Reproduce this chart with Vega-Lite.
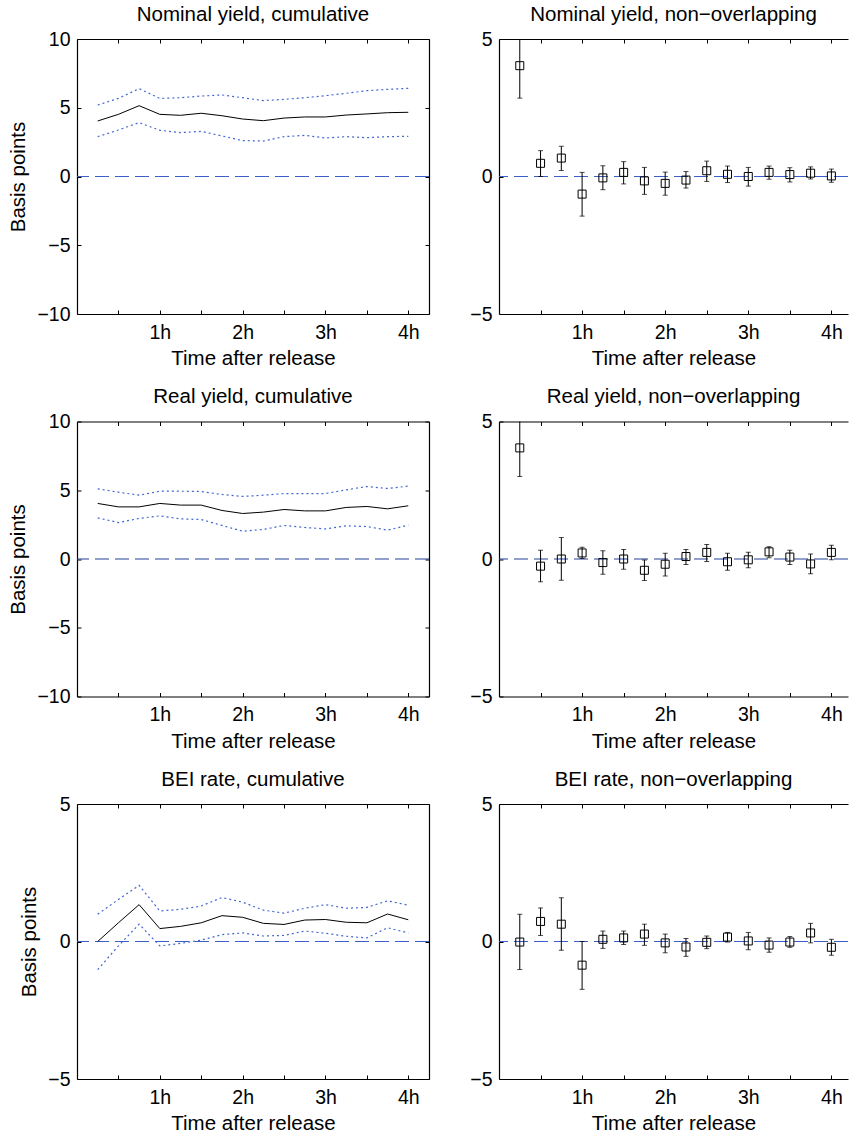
{
  "$schema": "https://vega.github.io/schema/vega-lite/v6.json",
  "padding": {"left": 8, "top": 4, "right": 0, "bottom": 0},
  "background": "white",
  "bounds": "flush",
  "columns": 2,
  "spacing": {"row": 107.5, "column": 70},
  "config": {
    "font": "Liberation Sans",
    "view": {"stroke": null},
    "axis": {
      "grid": false,
      "domainColor": "black",
      "domainWidth": 1.2,
      "tickColor": "black",
      "tickWidth": 1,
      "tickSize": -4,
      "labelColor": "black",
      "labelFont": "Liberation Sans",
      "labelFontSize": 19.5,
      "titleColor": "black",
      "titleFont": "Liberation Sans",
      "titleFontSize": 20.5,
      "titleFontWeight": "normal",
      "labelOverlap": false
    },
    "title": {
      "font": "Liberation Sans",
      "fontSize": 20.5,
      "fontWeight": "normal",
      "color": "black",
      "anchor": "middle",
      "frame": "group",
      "baseline": "alphabetic",
      "offset": 4
    }
  },
  "datasets": {
    "zero": [{"z": 0}],
    "cum_nom": [
      {"t": 0.25, "mean": 4.04, "lo": 2.90, "hi": 5.20},
      {"t": 0.5, "mean": 4.52, "lo": 3.38, "hi": 5.68},
      {"t": 0.75, "mean": 5.15, "lo": 3.92, "hi": 6.39},
      {"t": 1.0, "mean": 4.52, "lo": 3.36, "hi": 5.68},
      {"t": 1.25, "mean": 4.45, "lo": 3.19, "hi": 5.73},
      {"t": 1.5, "mean": 4.60, "lo": 3.28, "hi": 5.85},
      {"t": 1.75, "mean": 4.42, "lo": 2.95, "hi": 5.93},
      {"t": 2.0, "mean": 4.18, "lo": 2.61, "hi": 5.73},
      {"t": 2.25, "mean": 4.06, "lo": 2.58, "hi": 5.52},
      {"t": 2.5, "mean": 4.25, "lo": 2.90, "hi": 5.61},
      {"t": 2.75, "mean": 4.33, "lo": 2.99, "hi": 5.73},
      {"t": 3.0, "mean": 4.33, "lo": 2.80, "hi": 5.88},
      {"t": 3.25, "mean": 4.47, "lo": 2.90, "hi": 6.05},
      {"t": 3.5, "mean": 4.55, "lo": 2.82, "hi": 6.24},
      {"t": 3.75, "mean": 4.64, "lo": 2.90, "hi": 6.34},
      {"t": 4.0, "mean": 4.67, "lo": 2.92, "hi": 6.41}
    ],
    "cum_real": [
      {"t": 0.25, "mean": 4.04, "lo": 2.99, "hi": 5.10},
      {"t": 0.5, "mean": 3.79, "lo": 2.65, "hi": 4.86},
      {"t": 0.75, "mean": 3.79, "lo": 2.95, "hi": 4.64},
      {"t": 1.0, "mean": 4.04, "lo": 3.14, "hi": 4.93},
      {"t": 1.25, "mean": 3.92, "lo": 2.92, "hi": 4.93},
      {"t": 1.5, "mean": 3.92, "lo": 2.87, "hi": 4.91},
      {"t": 1.75, "mean": 3.53, "lo": 2.44, "hi": 4.69},
      {"t": 2.0, "mean": 3.31, "lo": 2.02, "hi": 4.55},
      {"t": 2.25, "mean": 3.41, "lo": 2.15, "hi": 4.64},
      {"t": 2.5, "mean": 3.60, "lo": 2.44, "hi": 4.76},
      {"t": 2.75, "mean": 3.50, "lo": 2.29, "hi": 4.76},
      {"t": 3.0, "mean": 3.50, "lo": 2.19, "hi": 4.76},
      {"t": 3.25, "mean": 3.75, "lo": 2.41, "hi": 5.03},
      {"t": 3.5, "mean": 3.82, "lo": 2.36, "hi": 5.27},
      {"t": 3.75, "mean": 3.65, "lo": 2.10, "hi": 5.13},
      {"t": 4.0, "mean": 3.87, "lo": 2.46, "hi": 5.30}
    ],
    "cum_bei": [
      {"t": 0.25, "mean": 0.00, "lo": -1.02, "hi": 0.99},
      {"t": 0.5, "mean": 0.68, "lo": -0.16, "hi": 1.53},
      {"t": 0.75, "mean": 1.34, "lo": 0.63, "hi": 2.04},
      {"t": 1.0, "mean": 0.47, "lo": -0.16, "hi": 1.11},
      {"t": 1.25, "mean": 0.55, "lo": -0.07, "hi": 1.17},
      {"t": 1.5, "mean": 0.68, "lo": 0.05, "hi": 1.29},
      {"t": 1.75, "mean": 0.94, "lo": 0.25, "hi": 1.60},
      {"t": 2.0, "mean": 0.88, "lo": 0.31, "hi": 1.43},
      {"t": 2.25, "mean": 0.66, "lo": 0.20, "hi": 1.14},
      {"t": 2.5, "mean": 0.62, "lo": 0.22, "hi": 1.03},
      {"t": 2.75, "mean": 0.78, "lo": 0.38, "hi": 1.21},
      {"t": 3.0, "mean": 0.80, "lo": 0.30, "hi": 1.34},
      {"t": 3.25, "mean": 0.70, "lo": 0.19, "hi": 1.21},
      {"t": 3.5, "mean": 0.68, "lo": 0.13, "hi": 1.24},
      {"t": 3.75, "mean": 1.00, "lo": 0.50, "hi": 1.48},
      {"t": 4.0, "mean": 0.79, "lo": 0.31, "hi": 1.32}
    ],
    "non_nom": [
      {"t": 0.25, "est": 4.03, "lo": 2.85, "hi": 5.21},
      {"t": 0.5, "est": 0.48, "lo": 0.00, "hi": 0.94},
      {"t": 0.75, "est": 0.67, "lo": 0.22, "hi": 1.10},
      {"t": 1.0, "est": -0.64, "lo": -1.44, "hi": 0.15},
      {"t": 1.25, "est": -0.05, "lo": -0.48, "hi": 0.39},
      {"t": 1.5, "est": 0.15, "lo": -0.27, "hi": 0.54},
      {"t": 1.75, "est": -0.16, "lo": -0.65, "hi": 0.33},
      {"t": 2.0, "est": -0.25, "lo": -0.68, "hi": 0.16},
      {"t": 2.25, "est": -0.13, "lo": -0.42, "hi": 0.18},
      {"t": 2.5, "est": 0.21, "lo": -0.18, "hi": 0.56},
      {"t": 2.75, "est": 0.08, "lo": -0.22, "hi": 0.38},
      {"t": 3.0, "est": 0.00, "lo": -0.35, "hi": 0.33},
      {"t": 3.25, "est": 0.15, "lo": -0.10, "hi": 0.38},
      {"t": 3.5, "est": 0.07, "lo": -0.20, "hi": 0.32},
      {"t": 3.75, "est": 0.12, "lo": -0.09, "hi": 0.35},
      {"t": 4.0, "est": 0.02, "lo": -0.21, "hi": 0.27}
    ],
    "non_real": [
      {"t": 0.25, "est": 4.04, "lo": 3.00, "hi": 5.08},
      {"t": 0.5, "est": -0.26, "lo": -0.83, "hi": 0.32},
      {"t": 0.75, "est": 0.00, "lo": -0.77, "hi": 0.78},
      {"t": 1.0, "est": 0.22, "lo": 0.02, "hi": 0.43},
      {"t": 1.25, "est": -0.13, "lo": -0.55, "hi": 0.30},
      {"t": 1.5, "est": 0.00, "lo": -0.37, "hi": 0.35},
      {"t": 1.75, "est": -0.41, "lo": -0.78, "hi": -0.04},
      {"t": 2.0, "est": -0.19, "lo": -0.62, "hi": 0.21},
      {"t": 2.25, "est": 0.09, "lo": -0.20, "hi": 0.35},
      {"t": 2.5, "est": 0.24, "lo": -0.09, "hi": 0.53},
      {"t": 2.75, "est": -0.10, "lo": -0.41, "hi": 0.21},
      {"t": 3.0, "est": -0.03, "lo": -0.32, "hi": 0.25},
      {"t": 3.25, "est": 0.26, "lo": 0.05, "hi": 0.45},
      {"t": 3.5, "est": 0.07, "lo": -0.20, "hi": 0.32},
      {"t": 3.75, "est": -0.18, "lo": -0.54, "hi": 0.18},
      {"t": 4.0, "est": 0.24, "lo": -0.03, "hi": 0.50}
    ],
    "non_bei": [
      {"t": 0.25, "est": -0.02, "lo": -1.02, "hi": 0.99},
      {"t": 0.5, "est": 0.73, "lo": 0.22, "hi": 1.22},
      {"t": 0.75, "est": 0.63, "lo": -0.32, "hi": 1.59},
      {"t": 1.0, "est": -0.86, "lo": -1.74, "hi": 0.00},
      {"t": 1.25, "est": 0.08, "lo": -0.25, "hi": 0.38},
      {"t": 1.5, "est": 0.13, "lo": -0.11, "hi": 0.38},
      {"t": 1.75, "est": 0.27, "lo": -0.14, "hi": 0.63},
      {"t": 2.0, "est": -0.05, "lo": -0.41, "hi": 0.27},
      {"t": 2.25, "est": -0.20, "lo": -0.54, "hi": 0.11},
      {"t": 2.5, "est": -0.03, "lo": -0.26, "hi": 0.20},
      {"t": 2.75, "est": 0.16, "lo": -0.02, "hi": 0.33},
      {"t": 3.0, "est": 0.02, "lo": -0.30, "hi": 0.33},
      {"t": 3.25, "est": -0.13, "lo": -0.39, "hi": 0.13},
      {"t": 3.5, "est": -0.02, "lo": -0.21, "hi": 0.18},
      {"t": 3.75, "est": 0.31, "lo": -0.05, "hi": 0.66},
      {"t": 4.0, "est": -0.21, "lo": -0.50, "hi": 0.08}
    ]
  },
  "concat": [
    {
      "title": "Nominal yield, cumulative",
      "width": 352, "height": 275,
      "data": {"name": "cum_nom"},
      "resolve": {"axis": {"x": "independent", "y": "independent"}},
      "layer": [
        {"data": {"name": "zero"}, "mark": {"type": "rule", "color": "#3a5fc8", "strokeDash": [14, 6], "strokeWidth": 1.2},
         "encoding": {"y": {"field": "z", "type": "quantitative", "scale": {"domain": [-10, 10], "nice": false}, "axis": {"orient": "left", "values": [-10, -5, 0, 5, 10], "labelPadding": 11, "title": "Basis points", "titlePadding": 8}}}},
        {"mark": {"type": "line", "color": "black", "strokeWidth": 1},
         "encoding": {"x": {"field": "t", "type": "quantitative", "scale": {"domain": [0, 4.25], "nice": false}, "axis": {"orient": "bottom", "values": [0.5, 1, 1.5, 2, 2.5, 3, 3.5, 4], "labelExpr": "datum.value % 1 === 0 ? datum.value + 'h' : ''", "labelPadding": 13, "labelFlush": false, "title": "Time after release", "titlePadding": 7}},
                      "y": {"field": "mean", "type": "quantitative", "axis": null}}},
        {"mark": {"type": "line", "color": "#4466d0", "strokeDash": [2, 3], "strokeWidth": 1.2},
         "encoding": {"x": {"field": "t", "type": "quantitative", "axis": {"orient": "top", "values": [0.5, 1, 1.5, 2, 2.5, 3, 3.5, 4], "labels": false, "title": null}},
                      "y": {"field": "hi", "type": "quantitative", "axis": {"orient": "right", "values": [-10, -5, 0, 5, 10], "labels": false, "title": null}}}},
        {"mark": {"type": "line", "color": "#4466d0", "strokeDash": [2, 3], "strokeWidth": 1.2},
         "encoding": {"x": {"field": "t", "type": "quantitative", "axis": null},
                      "y": {"field": "lo", "type": "quantitative", "axis": null}}}
      ]
    },
    {
      "title": "Nominal yield, non−overlapping",
      "width": 349, "height": 275,
      "data": {"name": "non_nom"},
      "resolve": {"axis": {"x": "independent", "y": "independent"}},
      "layer": [
        {"data": {"name": "zero"}, "mark": {"type": "rule", "color": "#3a5fc8", "strokeDash": [14, 6], "strokeWidth": 1.2},
         "encoding": {"y": {"field": "z", "type": "quantitative", "scale": {"domain": [-5, 5], "nice": false}, "axis": {"orient": "left", "values": [-5, 0, 5], "labelPadding": 11, "title": null}}}},
        {"mark": {"type": "rule", "color": "black", "strokeWidth": 1, "clip": true},
         "encoding": {"x": {"field": "t", "type": "quantitative", "scale": {"domain": [0, 4.2], "nice": false}, "axis": {"orient": "bottom", "values": [0.5, 1, 1.5, 2, 2.5, 3, 3.5, 4], "labelExpr": "datum.value % 1 === 0 ? datum.value + 'h' : ''", "labelPadding": 13, "labelFlush": false, "title": "Time after release", "titlePadding": 7}},
                      "y": {"field": "lo", "type": "quantitative", "axis": null}, "y2": {"field": "hi"}}},
        {"mark": {"type": "tick", "color": "black", "orient": "horizontal", "size": 5, "thickness": 1, "clip": true},
         "encoding": {"x": {"field": "t", "type": "quantitative", "axis": {"orient": "top", "values": [0.5, 1, 1.5, 2, 2.5, 3, 3.5, 4], "labels": false, "title": null}},
                      "y": {"field": "lo", "type": "quantitative", "axis": null}}},
        {"mark": {"type": "tick", "color": "black", "orient": "horizontal", "size": 5, "thickness": 1, "clip": true},
         "encoding": {"x": {"field": "t", "type": "quantitative", "axis": null},
                      "y": {"field": "hi", "type": "quantitative", "axis": null}}},
        {"mark": {"type": "point", "shape": "square", "filled": false, "color": "black", "size": 64, "strokeWidth": 1, "opacity": 1},
         "encoding": {"x": {"field": "t", "type": "quantitative", "axis": null},
                      "y": {"field": "est", "type": "quantitative", "axis": null}}}
      ]
    },
    {
      "title": "Real yield, cumulative",
      "width": 352, "height": 275,
      "data": {"name": "cum_real"},
      "resolve": {"axis": {"x": "independent", "y": "independent"}},
      "layer": [
        {"data": {"name": "zero"}, "mark": {"type": "rule", "color": "#22409a", "strokeDash": [14, 6], "strokeWidth": 1.2},
         "encoding": {"y": {"field": "z", "type": "quantitative", "scale": {"domain": [-10, 10], "nice": false}, "axis": {"orient": "left", "values": [-10, -5, 0, 5, 10], "labelPadding": 11, "title": "Basis points", "titlePadding": 8}}}},
        {"mark": {"type": "line", "color": "black", "strokeWidth": 1},
         "encoding": {"x": {"field": "t", "type": "quantitative", "scale": {"domain": [0, 4.25], "nice": false}, "axis": {"orient": "bottom", "values": [0.5, 1, 1.5, 2, 2.5, 3, 3.5, 4], "labelExpr": "datum.value % 1 === 0 ? datum.value + 'h' : ''", "labelPadding": 13, "labelFlush": false, "title": "Time after release", "titlePadding": 7}},
                      "y": {"field": "mean", "type": "quantitative", "axis": null}}},
        {"mark": {"type": "line", "color": "#4466d0", "strokeDash": [2, 3], "strokeWidth": 1.2},
         "encoding": {"x": {"field": "t", "type": "quantitative", "axis": {"orient": "top", "values": [0.5, 1, 1.5, 2, 2.5, 3, 3.5, 4], "labels": false, "title": null}},
                      "y": {"field": "hi", "type": "quantitative", "axis": {"orient": "right", "values": [-10, -5, 0, 5, 10], "labels": false, "title": null}}}},
        {"mark": {"type": "line", "color": "#4466d0", "strokeDash": [2, 3], "strokeWidth": 1.2},
         "encoding": {"x": {"field": "t", "type": "quantitative", "axis": null},
                      "y": {"field": "lo", "type": "quantitative", "axis": null}}}
      ]
    },
    {
      "title": "Real yield, non−overlapping",
      "width": 349, "height": 275,
      "data": {"name": "non_real"},
      "resolve": {"axis": {"x": "independent", "y": "independent"}},
      "layer": [
        {"data": {"name": "zero"}, "mark": {"type": "rule", "color": "#22409a", "strokeDash": [14, 6], "strokeWidth": 1.2},
         "encoding": {"y": {"field": "z", "type": "quantitative", "scale": {"domain": [-5, 5], "nice": false}, "axis": {"orient": "left", "values": [-5, 0, 5], "labelPadding": 11, "title": null}}}},
        {"mark": {"type": "rule", "color": "black", "strokeWidth": 1, "clip": true},
         "encoding": {"x": {"field": "t", "type": "quantitative", "scale": {"domain": [0, 4.2], "nice": false}, "axis": {"orient": "bottom", "values": [0.5, 1, 1.5, 2, 2.5, 3, 3.5, 4], "labelExpr": "datum.value % 1 === 0 ? datum.value + 'h' : ''", "labelPadding": 13, "labelFlush": false, "title": "Time after release", "titlePadding": 7}},
                      "y": {"field": "lo", "type": "quantitative", "axis": null}, "y2": {"field": "hi"}}},
        {"mark": {"type": "tick", "color": "black", "orient": "horizontal", "size": 5, "thickness": 1, "clip": true},
         "encoding": {"x": {"field": "t", "type": "quantitative", "axis": {"orient": "top", "values": [0.5, 1, 1.5, 2, 2.5, 3, 3.5, 4], "labels": false, "title": null}},
                      "y": {"field": "lo", "type": "quantitative", "axis": null}}},
        {"mark": {"type": "tick", "color": "black", "orient": "horizontal", "size": 5, "thickness": 1, "clip": true},
         "encoding": {"x": {"field": "t", "type": "quantitative", "axis": null},
                      "y": {"field": "hi", "type": "quantitative", "axis": null}}},
        {"mark": {"type": "point", "shape": "square", "filled": false, "color": "black", "size": 64, "strokeWidth": 1, "opacity": 1},
         "encoding": {"x": {"field": "t", "type": "quantitative", "axis": null},
                      "y": {"field": "est", "type": "quantitative", "axis": null}}}
      ]
    },
    {
      "title": "BEI rate, cumulative",
      "width": 352, "height": 275,
      "data": {"name": "cum_bei"},
      "resolve": {"axis": {"x": "independent", "y": "independent"}},
      "layer": [
        {"data": {"name": "zero"}, "mark": {"type": "rule", "color": "#3a5fc8", "strokeDash": [14, 6], "strokeWidth": 1.2},
         "encoding": {"y": {"field": "z", "type": "quantitative", "scale": {"domain": [-5, 5], "nice": false}, "axis": {"orient": "left", "values": [-5, 0, 5], "labelPadding": 11, "title": "Basis points", "titlePadding": 8}}}},
        {"mark": {"type": "line", "color": "black", "strokeWidth": 1},
         "encoding": {"x": {"field": "t", "type": "quantitative", "scale": {"domain": [0, 4.25], "nice": false}, "axis": {"orient": "bottom", "values": [0.5, 1, 1.5, 2, 2.5, 3, 3.5, 4], "labelExpr": "datum.value % 1 === 0 ? datum.value + 'h' : ''", "labelPadding": 13, "labelFlush": false, "title": "Time after release", "titlePadding": 7}},
                      "y": {"field": "mean", "type": "quantitative", "axis": null}}},
        {"mark": {"type": "line", "color": "#4466d0", "strokeDash": [2, 3], "strokeWidth": 1.2},
         "encoding": {"x": {"field": "t", "type": "quantitative", "axis": {"orient": "top", "values": [0.5, 1, 1.5, 2, 2.5, 3, 3.5, 4], "labels": false, "title": null}},
                      "y": {"field": "hi", "type": "quantitative", "axis": {"orient": "right", "values": [-5, 0, 5], "labels": false, "title": null}}}},
        {"mark": {"type": "line", "color": "#4466d0", "strokeDash": [2, 3], "strokeWidth": 1.2},
         "encoding": {"x": {"field": "t", "type": "quantitative", "axis": null},
                      "y": {"field": "lo", "type": "quantitative", "axis": null}}}
      ]
    },
    {
      "title": "BEI rate, non−overlapping",
      "width": 349, "height": 275,
      "data": {"name": "non_bei"},
      "resolve": {"axis": {"x": "independent", "y": "independent"}},
      "layer": [
        {"data": {"name": "zero"}, "mark": {"type": "rule", "color": "#3a5fc8", "strokeDash": [14, 6], "strokeWidth": 1.2},
         "encoding": {"y": {"field": "z", "type": "quantitative", "scale": {"domain": [-5, 5], "nice": false}, "axis": {"orient": "left", "values": [-5, 0, 5], "labelPadding": 11, "title": null}}}},
        {"mark": {"type": "rule", "color": "black", "strokeWidth": 1, "clip": true},
         "encoding": {"x": {"field": "t", "type": "quantitative", "scale": {"domain": [0, 4.2], "nice": false}, "axis": {"orient": "bottom", "values": [0.5, 1, 1.5, 2, 2.5, 3, 3.5, 4], "labelExpr": "datum.value % 1 === 0 ? datum.value + 'h' : ''", "labelPadding": 13, "labelFlush": false, "title": "Time after release", "titlePadding": 7}},
                      "y": {"field": "lo", "type": "quantitative", "axis": null}, "y2": {"field": "hi"}}},
        {"mark": {"type": "tick", "color": "black", "orient": "horizontal", "size": 5, "thickness": 1, "clip": true},
         "encoding": {"x": {"field": "t", "type": "quantitative", "axis": {"orient": "top", "values": [0.5, 1, 1.5, 2, 2.5, 3, 3.5, 4], "labels": false, "title": null}},
                      "y": {"field": "lo", "type": "quantitative", "axis": null}}},
        {"mark": {"type": "tick", "color": "black", "orient": "horizontal", "size": 5, "thickness": 1, "clip": true},
         "encoding": {"x": {"field": "t", "type": "quantitative", "axis": null},
                      "y": {"field": "hi", "type": "quantitative", "axis": null}}},
        {"mark": {"type": "point", "shape": "square", "filled": false, "color": "black", "size": 64, "strokeWidth": 1, "opacity": 1},
         "encoding": {"x": {"field": "t", "type": "quantitative", "axis": null},
                      "y": {"field": "est", "type": "quantitative", "axis": null}}}
      ]
    }
  ]
}
